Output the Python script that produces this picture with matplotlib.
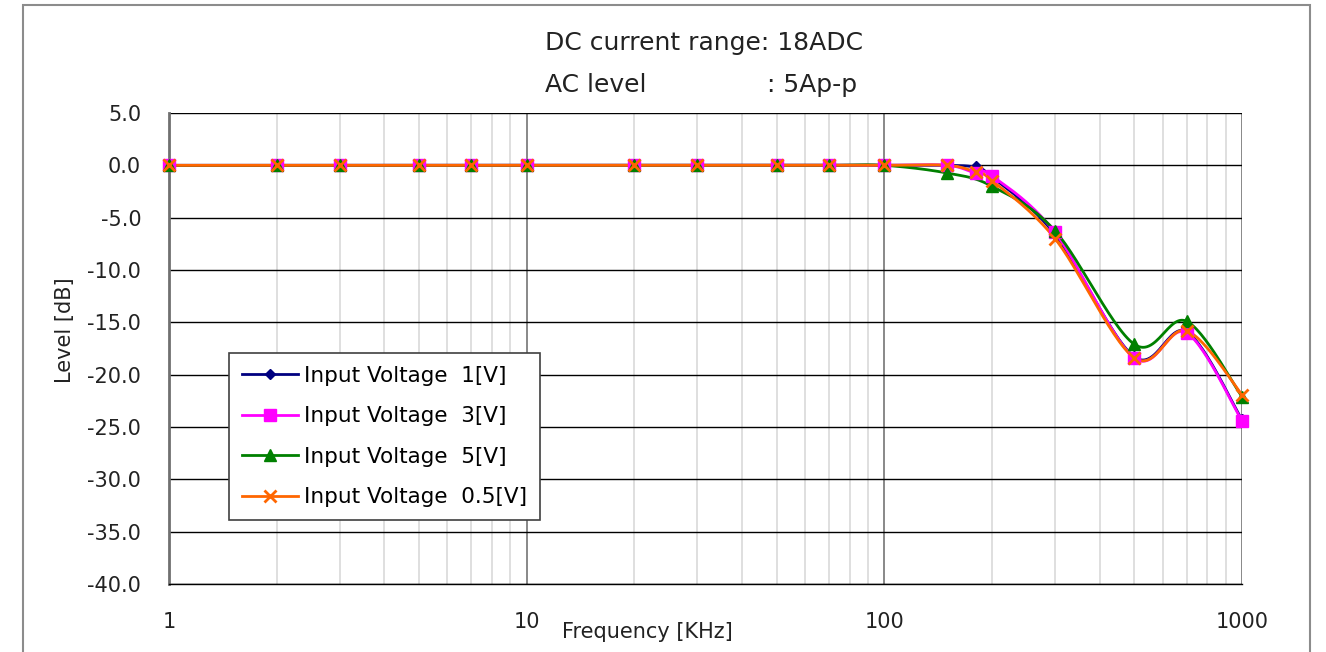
import numpy as np
import matplotlib.pyplot as plt
from matplotlib.lines import Line2D
from matplotlib.patches import Rectangle

# frekvens i kHz och nivå i dB
freq = [1, 2, 3, 5, 7, 10, 20, 30, 50, 70, 100, 150, 180, 200, 300, 500, 700, 1000]
freq_5 = [1, 2, 3, 5, 7, 10, 20, 30, 50, 70, 100, 150, 200, 300, 500, 700, 1000]
v_1 = [0, 0, 0, 0, 0, 0, 0, 0, 0, 0, 0, 0.0, -0.2, -1.1, -6.6, -18.3, -15.9, -24.3]
v_3 = [0, 0, 0, 0, 0, 0, 0, 0, 0, 0, 0, 0.0, -0.75, -1.0, -6.4, -18.4, -16.0, -24.4]
v_5 = [0, 0, 0, 0, 0, 0, 0, 0, 0, 0, 0, -0.74, -2.0, -6.25, -17.1, -14.9, -22.1]
v_05 = [0, 0, 0, 0, 0, 0, 0, 0, 0, 0, 0, 0.0, -0.65, -1.45, -7.0, -18.4, -15.8, -21.9]

labels = ['Input Voltage  1[V]', 'Input Voltage  3[V]', 'Input Voltage  5[V]', 'Input Voltage  0.5[V]']
colors = ['#000080', '#ff00ff', '#008000', '#ff6600']
markers = ['D', 's', '^', 'x']
msizes = [6, 9, 9, 9]
series = [(freq, v_1), (freq, v_3), (freq_5, v_5), (freq, v_05)]

W, H = 1326, 652
ax_l, ax_r, ax_t, ax_b = 169, 1242, 113, 584
px_dec = (ax_r - ax_l) / 3.0     # pixlar per dekad
px_db = (ax_b - ax_t) / 45.0      # pixlar per dB


def smooth(x, y, n=30):
    # Excel-liknande utjämnad kurva (Bezier genom punkterna) i skärmskala
    u = np.log10(x) * px_dec
    v = np.array(y) * px_db
    P = np.column_stack([u, v])
    out = []
    for i in range(len(P) - 1):
        p0 = P[i - 1] if i > 0 else P[i]
        p1 = P[i]
        p2 = P[i + 1]
        p3 = P[i + 2] if i + 2 < len(P) else P[i + 1]
        c1 = p1 + (p2 - p0) / 6
        c2 = p2 - (p3 - p1) / 6
        t = np.linspace(0, 1, n)[:, None]
        b = (1 - t)**3 * p1 + 3 * (1 - t)**2 * t * c1 + 3 * (1 - t) * t**2 * c2 + t**3 * p2
        out.append(b if i == 0 else b[1:])
    B = np.vstack(out)
    return 10 ** (B[:, 0] / px_dec), B[:, 1] / px_db


fig = plt.figure(figsize=(W / 100, H / 100), dpi=100)
fig.patches.append(Rectangle((23 / W, -0.01), (1310 - 23) / W, 1 - 5 / H + 0.01,
                             transform=fig.transFigure, fill=False,
                             edgecolor='#8c8c8c', lw=1.5))
ax = fig.add_axes([ax_l / W, 1 - ax_b / H, (ax_r - ax_l) / W, (ax_b - ax_t) / H])
ax.set_xscale('log')
ax.set_xlim(1, 1000)
ax.set_ylim(-40, 5)
ax.set_yticks(np.arange(-40, 5.1, 5))
ax.set_yticklabels(['%.1f' % v for v in np.arange(-40, 5.1, 5)])
ax.set_xticks([1, 10, 100, 1000])
ax.set_xticklabels(['1', '10', '100', '1000'])
ax.set_xticks([k * d for d in [1, 10, 100] for k in range(2, 10)], minor=True)
ax.tick_params(which='both', length=0, labelsize=15, colors='#222222')
ax.tick_params(axis='y', pad=20)
ax.tick_params(axis='x', pad=20)
ax.grid(which='minor', axis='x', color='#dcdcdc', lw=1.3)
ax.grid(which='major', axis='x', color='#7f7f7f', lw=1.3)
ax.grid(which='major', axis='y', color='black', lw=1.0)
for s in ['top', 'right']:
    ax.spines[s].set_visible(False)
ax.spines['left'].set_color('#707070')
ax.spines['left'].set_linewidth(2)
ax.spines['bottom'].set_color('black')
ax.spines['bottom'].set_linewidth(1)
ax.set_axisbelow(True)

for (x, y), c, m, ms in zip(series, colors, markers, msizes):
    xs, ys = smooth(x, y)
    ax.plot(xs, ys, '-', color=c, lw=2, clip_on=False, zorder=3)
    ax.plot(x, y, m, color=c, ms=ms, mew=2 if m == 'x' else 1, clip_on=False, zorder=4)

handles = [Line2D([], [], color=c, marker=m, ms=ms * 0.9, lw=2, mew=2 if m == 'x' else 1)
           for c, m, ms in zip(colors, markers, msizes)]
leg = ax.legend(handles, labels, loc='upper left', bbox_to_anchor=(229 / W, 1 - 353 / H),
                bbox_transform=fig.transFigure, borderaxespad=0, fancybox=False,
                framealpha=1, edgecolor='#404040', fontsize=15.5, handlelength=2.6,
                labelspacing=0.95, borderpad=0.6, handletextpad=0.3)
leg.get_frame().set_linewidth(1.2)

fig.text(545 / W, 1 - 43 / H, 'DC current range: 18ADC', fontsize=18, va='center', color='#222222')
fig.text(545 / W, 1 - 85 / H, 'AC level', fontsize=18, va='center', color='#222222')
fig.text(767 / W, 1 - 85 / H, ': 5Ap-p', fontsize=18, va='center', color='#222222')
fig.text(647 / W, 1 - 632 / H, 'Frequency [KHz]', fontsize=15, ha='center', va='center', color='#222222')
fig.text(65 / W, 1 - 330 / H, 'Level [dB]', fontsize=15, ha='center', va='center',
         rotation=90, color='#222222')

plt.savefig('out.png', dpi=100)
